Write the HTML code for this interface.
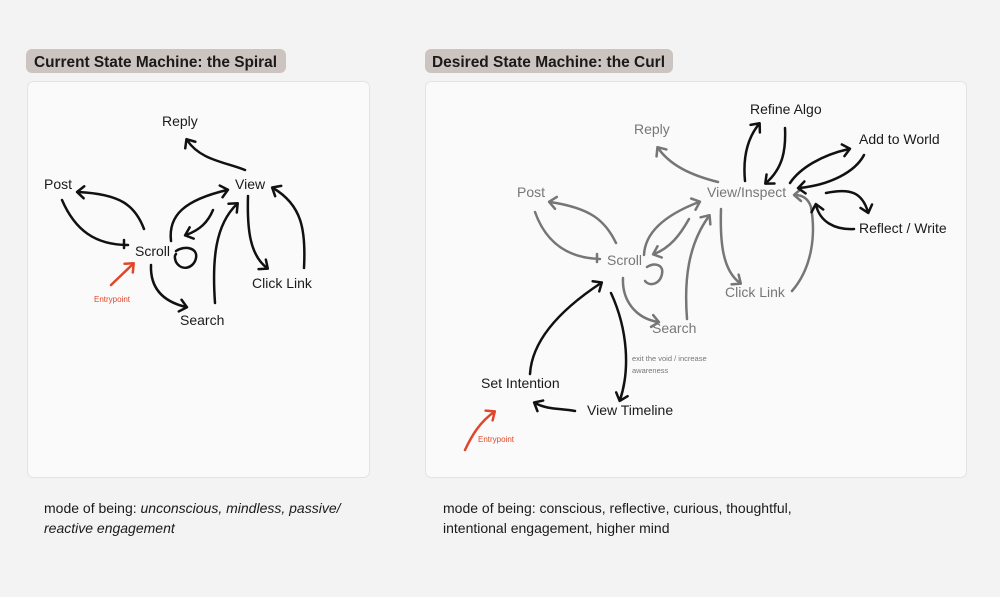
<!DOCTYPE html>
<html><head><meta charset="utf-8"><style>
html,body{margin:0;padding:0;background:#f3f3f3;}
svg{display:block;font-family:"Liberation Sans",sans-serif;}
</style></head><body>
<svg width="1000" height="597" viewBox="0 0 1000 597" xmlns="http://www.w3.org/2000/svg">
<defs>
<marker id="ab" viewBox="0 0 10 10" refX="0" refY="0" markerWidth="10" markerHeight="10" orient="auto" markerUnits="userSpaceOnUse" style="overflow:visible">
<path d="M-6,-6 L1,0 L-6,6" fill="none" stroke="#111" stroke-width="2.5" stroke-linecap="round" stroke-linejoin="round"/></marker>
<marker id="ag" viewBox="0 0 10 10" refX="0" refY="0" markerWidth="10" markerHeight="10" orient="auto" markerUnits="userSpaceOnUse" style="overflow:visible">
<path d="M-6,-6 L1,0 L-6,6" fill="none" stroke="#767676" stroke-width="2.5" stroke-linecap="round" stroke-linejoin="round"/></marker>
<marker id="ar" viewBox="0 0 10 10" refX="0" refY="0" markerWidth="10" markerHeight="10" orient="auto" markerUnits="userSpaceOnUse" style="overflow:visible">
<path d="M-6,-6 L1,0 L-6,6" fill="none" stroke="#e0472a" stroke-width="2.5" stroke-linecap="round" stroke-linejoin="round"/></marker>
</defs>
<rect width="1000" height="597" fill="#f3f3f3"/>
<rect x="26" y="49" width="260" height="24" rx="6" fill="#cbc4c1"/>
<text x="34" y="67" font-size="15.5" font-weight="bold" fill="#1a1a1a" textLength="243" lengthAdjust="spacingAndGlyphs">Current State Machine: the Spiral</text>
<rect x="425" y="49" width="248" height="24" rx="6" fill="#cbc4c1"/>
<text x="432" y="67" font-size="15.5" font-weight="bold" fill="#1a1a1a" textLength="233" lengthAdjust="spacingAndGlyphs">Desired State Machine: the Curl</text>
<rect x="27.5" y="81.5" width="342" height="396" rx="6" fill="#fafafa" stroke="#e3e3e3"/>
<rect x="425.5" y="81.5" width="541" height="396" rx="6" fill="#fafafa" stroke="#e3e3e3"/>

<g fill="none" stroke="#111" stroke-width="2.5" stroke-linecap="round">
<path d="M245,170 C225,162 200,160 187,140" marker-end="url(#ab)"/>
<path d="M144,229 C135,205 120,194 78,192" marker-end="url(#ab)"/>
<path d="M62,200 C75,230 95,245 128,245 M124,240 L124,248"/>
<path d="M171,241 C168,215 185,200 227,190" marker-end="url(#ab)"/>
<path d="M213,210 C208,222 200,230 186,235" marker-end="url(#ab)"/>
<path d="M176,251 C185,245 198,248 196,258 C194,268 182,272 176,262 C174,257 175,255 176,254"/>
<path d="M215,303 C212,260 215,225 237,204" marker-end="url(#ab)"/>
<path d="M248,196 C247,230 250,255 267,268" marker-end="url(#ab)"/>
<path d="M304,268 C306,230 302,205 273,188" marker-end="url(#ab)"/>
<path d="M151,265 C150,290 165,302 186,307" marker-end="url(#ab)"/>
</g>
<path d="M111,285 L133,264" fill="none" stroke="#e0472a" stroke-width="2.5" stroke-linecap="round" marker-end="url(#ar)"/>
<g font-size="14" fill="#1a1a1a">
<text x="162" y="126">Reply</text>
<text x="44" y="189">Post</text>
<text x="235" y="189">View</text>
<text x="135" y="256">Scroll</text>
<text x="252" y="288">Click Link</text>
<text x="180" y="325">Search</text>
</g>
<text x="94" y="302" font-size="8" fill="#e0472a">Entrypoint</text>

<g fill="none" stroke="#767676" stroke-width="2.5" stroke-linecap="round">
<path d="M718,182 C690,175 670,165 658,148" marker-end="url(#ag)"/>
<path d="M616,243 C605,220 590,208 550,202" marker-end="url(#ag)"/>
<path d="M535,212 C545,240 565,258 600,259 M597,254 L597,262"/>
<path d="M644,255 C645,232 665,215 699,202" marker-end="url(#ag)"/>
<path d="M689,219 C680,235 670,248 654,254" marker-end="url(#ag)"/>
<path d="M647,267 C655,262 664,265 662,274 C660,284 650,287 645,281"/>
<path d="M687,319 C684,280 688,245 709,216" marker-end="url(#ag)"/>
<path d="M721,209 C720,240 722,270 740,283" marker-end="url(#ag)"/>
<path d="M792,291 C812,268 816,235 811,207 C808,198 802,195 795,195" marker-end="url(#ag)"/>
<path d="M623,278 C622,300 635,318 658,322" marker-end="url(#ag)"/>
</g>
<g fill="none" stroke="#111" stroke-width="2.5" stroke-linecap="round">
<path d="M745,181 C743,160 746,140 759,124" marker-end="url(#ab)"/>
<path d="M785,128 C786,150 783,168 766,183" marker-end="url(#ab)"/>
<path d="M790,183 C800,168 822,155 849,149" marker-end="url(#ab)"/>
<path d="M864,155 C855,172 830,185 799,188" marker-end="url(#ab)"/>
<path d="M826,193 C850,188 862,192 868,212" marker-end="url(#ab)"/>
<path d="M854,229 C835,230 820,222 816,205" marker-end="url(#ab)"/>
<path d="M530,374 C532,340 560,310 601,283" marker-end="url(#ab)"/>
<path d="M611,293 C628,330 630,370 620,400" marker-end="url(#ab)"/>
<path d="M575,411 C560,408 548,410 535,403" marker-end="url(#ab)"/>
</g>
<path d="M465,450 C472,435 480,422 494,412" fill="none" stroke="#e0472a" stroke-width="2.5" stroke-linecap="round" marker-end="url(#ar)"/>
<g font-size="14" fill="#777">
<text x="634" y="134">Reply</text>
<text x="517" y="197">Post</text>
<text x="707" y="197">View/Inspect</text>
<text x="607" y="265">Scroll</text>
<text x="725" y="297">Click Link</text>
<text x="652" y="333">Search</text>
</g>
<g font-size="14" fill="#1a1a1a">
<text x="750" y="114">Refine Algo</text>
<text x="859" y="144">Add to World</text>
<text x="859" y="233">Reflect / Write</text>
<text x="481" y="388">Set Intention</text>
<text x="587" y="415">View Timeline</text>
</g>
<text x="632" y="361" font-size="7.5" fill="#777">exit the void / increase</text>
<text x="632" y="373" font-size="7.5" fill="#777">awareness</text>
<text x="478" y="442" font-size="8" fill="#e0472a">Entrypoint</text>

<g font-size="14" fill="#1a1a1a">
<text x="44" y="513">mode of being: <tspan font-style="italic">unconscious, mindless, passive/</tspan></text>
<text x="44" y="533" font-style="italic">reactive engagement</text>
<text x="443" y="513">mode of being: conscious, reflective, curious, thoughtful,</text>
<text x="443" y="533">intentional engagement, higher mind</text>
</g>
</svg>
</body></html>
